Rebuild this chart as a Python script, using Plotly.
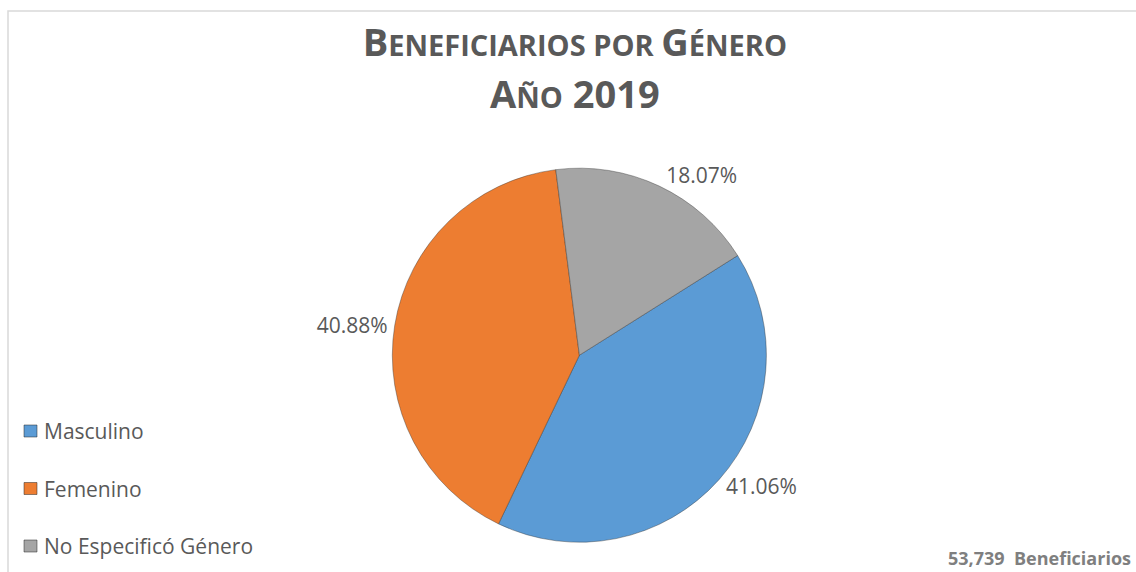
import plotly.graph_objects as go

# ---- data ----
categories = ["Masculino", "Femenino", "No Especificó Género"]
percentages = [41.06, 40.88, 18.07]
colors = ["#5B9BD5", "#ED7D31", "#A5A5A5"]
total_beneficiarios = 53739
title_year = "2019"

TEXT = "#595959"
FONT = "Open Sans"

fig = go.Figure()

fig.add_trace(go.Pie(
    labels=categories,
    values=percentages,
    sort=False,
    direction="clockwise",
    rotation=57.8,
    marker=dict(colors=colors, line=dict(color="rgba(50,50,50,0.4)", width=1)),
    texttemplate="%{value:.2f}%",
    textposition="outside",
    textfont=dict(family=FONT, size=21, color=TEXT),
    showlegend=False,
    domain=dict(x=[0.345, 0.675], y=[0.052, 0.706]),
    hovertemplate="%{label}: %{value:.2f}%<extra></extra>",
))

big, small = 38, 29
def sc(word, first_big=True):
    if first_big:
        return (f"<span style='font-size:{big}px'>{word[0]}</span>"
                f"<span style='font-size:{small}px'>{word[1:].upper()}</span>")
    return f"<span style='font-size:{small}px'>{word.upper()}</span>"

sp = f"<span style='font-size:{small}px'> </span>"
title_text = (sc("Beneficiarios") + sp + sc("por", False) + sp + sc("Género") +
              "<br>" + sc("Año") + f"<span style='font-size:{big}px'> {title_year}</span>")

fig.update_layout(
    width=1136, height=572,
    margin=dict(l=0, r=0, t=0, b=0),
    paper_bgcolor="white",
    plot_bgcolor="white",
    title=dict(text=title_text, x=0.506, xanchor="center", y=0.902, yanchor="top",
               font=dict(family=FONT, size=40, color=TEXT, weight="bold")),
)

# chart-area border (top and left edges visible)
fig.add_shape(type="rect", xref="paper", yref="paper",
              x0=8/1136, x1=1.02, y0=-0.05, y1=1 - 11/572,
              line=dict(color="#D9D9D9", width=1.5), fillcolor="rgba(0,0,0,0)", layer="below")

# manual legend (left side, widely spaced)
leg_y0 = 1 - 431/572
leg_step = 57.5/572
for i, (name, col) in enumerate(zip(categories, colors)):
    yc = leg_y0 - i*leg_step
    fig.add_shape(type="rect", xref="paper", yref="paper",
                  x0=24/1136, x1=37/1136, y0=yc - 6/572, y1=yc + 6/572,
                  fillcolor=col, line=dict(color="rgba(40,40,40,0.5)", width=1))
    fig.add_annotation(text=name, xref="paper", yref="paper", x=42/1136, y=yc,
                       xanchor="left", yanchor="middle", showarrow=False,
                       font=dict(family=FONT, size=21, color=TEXT))

fig.add_annotation(text=f"{total_beneficiarios:,}  Beneficiarios", xref="paper", yref="paper",
                   x=1133/1136, y=1 - 558/572, xanchor="right", yanchor="middle",
                   showarrow=False,
                   font=dict(family=FONT, size=18, color="#7F7F7F", weight="bold"))

fig.write_html("out.html",
               config={"displayModeBar": False},
               post_script="document.body.style.margin='0';document.body.style.padding='0';")
